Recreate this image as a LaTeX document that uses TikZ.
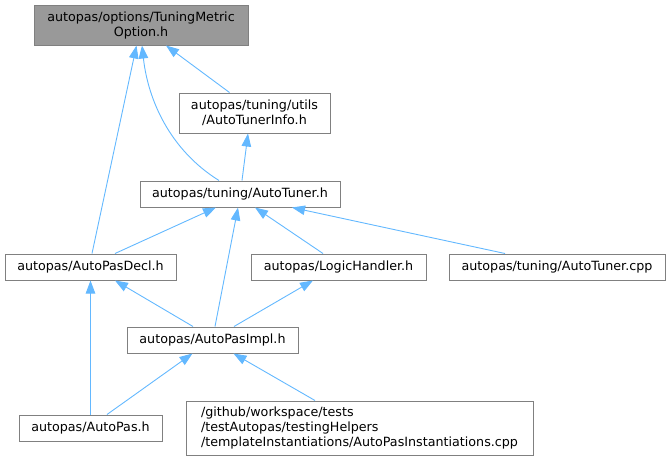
\documentclass[tikz,border=0pt]{standalone}
\usepackage{fontspec}
\setmainfont{DejaVu Sans}
\usetikzlibrary{arrows.meta}

\definecolor{edgeblue}{HTML}{63B8FF}
\definecolor{boxline}{HTML}{808080}
\definecolor{rootfill}{HTML}{999999}

\begin{document}
\begin{tikzpicture}[x=1pt, y=-1pt,
    file/.style={draw=boxline, fill=white, line width=1pt, minimum height=26pt,
        inner sep=0pt, font=\fontsize{12.7}{15}\selectfont},
    root/.style={file, fill=rootfill, minimum height=40pt, align=center},
    inc/.style={draw=edgeblue, line width=0.9pt, {Triangle[length=13pt,width=9.5pt]}-}]
    \useasboundingbox (0,0) rectangle (670,461);
    \node[root, minimum width=214pt] (opt) at (141,25) {autopas/options/TuningMetric\\Option.h};
    \node[file, minimum width=151pt, minimum height=40pt, align=center] (info) at (254.5,113) {autopas/tuning/utils\\/AutoTunerInfo.h};
    \node[file, minimum width=200pt] (tuner) at (240,194) {autopas/tuning/AutoTuner.h};
    \node[file, minimum width=171pt] (decl) at (90.5,267) {autopas/AutoPasDecl.h};
    \node[file, minimum width=175pt] (logic) at (338.5,267) {autopas/LogicHandler.h};
    \node[file, minimum width=216pt] (cpp) at (557,267) {autopas/tuning/AutoTuner.cpp};
    \node[file, minimum width=171pt] (impl) at (212.5,340) {autopas/AutoPasImpl.h};
    \node[file, minimum width=143pt] (pas) at (90.5,428) {autopas/AutoPas.h};
    \node[file, minimum width=347pt, minimum height=54pt, align=left] (inst) at (359.5,428) {/github/workspace/tests\\/testAutopas/testingHelpers\\/templateInstantiations/AutoPasInstantiations.cpp};
    % includes, arrow at the included file
    \draw[inc] ([xshift=25pt]opt.south) -- ([xshift=-25pt]info.north);
    \draw[inc] ([xshift=1pt]opt.south) .. controls (148,100) and (170,150) .. ([xshift=-21pt]tuner.north);
    \draw[inc] ([xshift=-4.5pt]opt.south) -- ([xshift=1.5pt]decl.north);
    \draw[inc] ([xshift=-6.5pt]info.south) -- ([xshift=2pt]tuner.north);
    \draw[inc] ([xshift=-24pt]tuner.south) -- ([xshift=24.5pt]decl.north);
    \draw[inc] ([xshift=-2pt]tuner.south) -- ([xshift=2.5pt]impl.north);
    \draw[inc] ([xshift=15pt]tuner.south) -- ([xshift=-15.5pt]logic.north);
    \draw[inc] ([xshift=52pt]tuner.south) -- ([xshift=-52pt]cpp.north);
    \draw[inc] ([xshift=24.5pt]decl.south) -- ([xshift=-19.5pt]impl.north);
    \draw[inc] ([xshift=-25.5pt]logic.south) -- ([xshift=21.5pt]impl.north);
    \draw[inc] (decl.south) -- (pas.north);
    \draw[inc] ([xshift=-20pt]impl.south) -- ([xshift=16.5pt]pas.north);
    \draw[inc] ([xshift=21pt]impl.south) -- ([xshift=-44.5pt]inst.north);
\end{tikzpicture}
\end{document}
